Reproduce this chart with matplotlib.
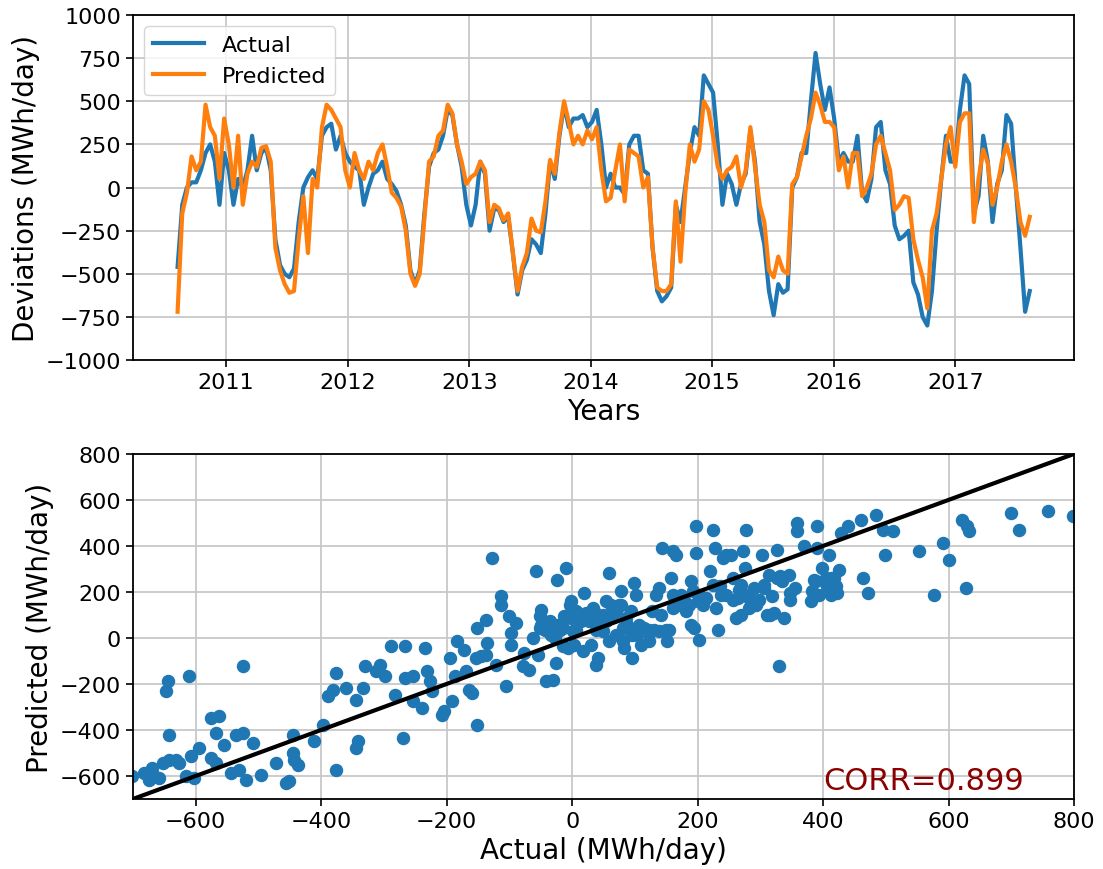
import numpy as np
import pandas as pd
import matplotlib
matplotlib.use('Agg')
import matplotlib.pyplot as plt
import matplotlib.dates as mdates

# fortnightly deviations (MWh/day), first sample 2010-08-08
actual = [-460, -100, 0, 30, 30, 100, 200, 250, 150, -100, 200, 100, -100, 50, 0, 100, 300, 100, 200, 230,
          100, -300, -450, -500, -520, -470, -200, 0, 60, 100, 50, 300, 350, 370, 220, 300, 200, 150, 120, 100,
          -100, 0, 80, 100,
          150, 50, 20, -20, -100, -220, -480, -560, -480, -150, 120, 200, 220, 300, 450, 420, 250, 120, -100, -220,
          -100, 150, 80, -250, -120, -130, -200, -170, -380, -620, -480, -420, -300, -330, -380, -150, 150, 50, 300, 480,
          350, 400, 400, 420, 350, 380, 450, 250, 0, 80, 0,
          0, -40, 250, 300, 300, 100, 80, -350, -600, -660, -630, -580, -100, -200, 0, 200, 350, 300, 650, 600,
          550, 250, -100, 80, 20, -100, 20, 80, 330, 150, -200, -330, -600, -740, -560, -610, -590, 0, 60, 200,
          200, 500, 780, 600, 450, 580, 400, 150, 200, 150,
          150, 300, -30, -80, 50, 350, 380, 100, 20, -220, -300, -280, -250, -550, -620, -750, -800, -600, -250, 50,
          300, 150, 150, 450, 650, 600, -150, -50, 300, 150, -200, 20, 100, 420, 370, 0, -350, -720, -600]
predicted = [-720, -150, -30, 180, 100, 150, 480, 350, 300, 50, 400, 250, 0, 300, -100, 80, 150, 120, 230, 240,
             150, -350, -480, -560, -610, -600, -300, -50, -380, 50, 0, 350, 480, 450, 400, 350, 100, 0, 200, 100,
             50, 150, 100, 200,
             250, 120, -30, -60, -110, -250, -500, -570, -500, -180, 150, 180, 300, 330, 480, 430, 250, 150, 20, 60,
             80, 150, 100, -200, -100, -120, -190, -150, -380, -600, -460, -380, -180, -250, -260, -80, 160, 80, 320, 500,
             380, 250, 300, 250, 330, 280, 350, 100, -80, -60, 100,
             250, -80, 220, 200, 180, 0, 60, -350, -580, -600, -600, -560, -80, -430, -40, 250, 150, 220, 500, 450,
             300, 120, 50, 100, 120, 180, 0, 100, 350, 120, -100, -200, -480, -520, -400, -480, -500, 20, 60, 180,
             300, 400, 550, 480, 380, 380, 350, 100, 180, 0,
             200, 200, -50, 0, 80, 250, 300, 200, 100, -130, -100, -50, -60, -300, -420, -520, -700, -250, -150, 50,
             250, 350, 120, 380, 430, 430, -200, 50, 220, 140, -100, 0, 150, 250, 150, 0, -200, -280, -170]
dates = pd.date_range('2010-08-08', periods=len(actual), freq='14D')

# scatter: actual vs predicted (MWh/day)
sc_actual = [-701, -683, -675, -667, -659, -669, -653, -643, -632, -627, -648, -645, -643, -611, -608, -595, -603, -616,
             -576, -576, -563, -568, -555, -568, -544, -531, -536, -525, -525, -520, -509, -496, -472, -451, -456, -445,
             -443, -437, -445, -411, -397, -377, -377, -389, -381, -360, -344, -341, -344, -333, -331, -312, -307, -299,
             -288, -283, -269, -267, -267, -253, -253, -240, -235, -232, -227, -224, -208, -205, -195, -192, -187, -184,
             -172, -169, -164, -159, -153, -151, -145, -137, -151, -137, -135, -127, -113, -113, -121, -105, -100, -97,
             -90, -97, -79, -68, -76, -63, -58, -55, -52, -50, -47, -42, -31, -39, -31, -28, -26, -24, -20, -15, -13,
             -10, -7, -2, 1, 3, 6, 14, 17, 19, 25, 30, 33, 38, 41, 43, 49, 54, 59, 59, 65, 70, 75, 78, 81, 83, 86, 91,
             94, 96, 99, 102, 104, 107, 110, 118, 123, 128, 134, 139, 142, 144, 150, 152, 158, 160, 160, 165, 168, 176,
             181, 189, 192, 195, 197, 197, 200, 203, 208, 213, 219, 224, 227, 229, 232, 237, 240, 245, 253, 256, 261,
             264, 269, 272, 275, 277, 280, 282, 290, 298, 303, 306, 311,
             319, 316, 322, 330, 332, 327, 338, 348, 348, 359, 359, 370, 380, 391, 388, 391, 399, 404, 407, 410, 412,
             418, 423, 426, 428, 439, 460, 463, 471, 484, 495, 498, 511, 553, 577, 591, 601, 622, 628, 630, 632, 699,
             713, 758, 798,
             -52, -50, -44, -36, -34, -23, -15, -4, -2, 6, 12, 22, 27, 35, 38, 49, 54, 62, 70, 78, 81, 88, 96, 102,
             115, 123, 131, 139, 155, 160, 171, 179, 187, 189, 173, 203, 224, 235, 245, 256, 266, 282, 293, 269,
             306, 314, 327, 335, 346, 356, 383, 386, 394, 412, 420]
sc_pred = [-601, -587, -616, -601, -609, -565, -543, -529, -529, -543, -232, -188, -420, -167, -514, -478, -609, -601,
           -522, -348, -341, -413, -464, -543, -587, -572, -420, -413, -123, -616, -456, -594, -543, -623, -630, -500,
           -529, -551, -420, -449, -377, -572, -152, -254, -225, -217, -478, -449, -268, -217, -123, -145, -116, -167,
           -36, -246, -435, -36, -174, -167, -275, -304, -43, -145, -188, -232, -333, -319, -87, -275, -167, -14,
           -51, -145, -225, -239, -87, -377, -80, -72, 43, 80, -22, 348, 181, 145, -116, -210, 94, 22, 65, -29,
           -123, -138, -65, 0, 290, -72, 43, 123, 72, -188, -181, 29, 58, 0, -109, 254, 36, -36, 94,
           304, -43, 159, 29, -29, 116, 72, -58, 196, 101, -29, 130, -116, -87, 72, 29, 159, 283, -14, 101, 14, 145,
           203, -14, -43, 87, 43, 116, -87, 239, 188, 14, 58, -29, 29, 36, 116, 188, 217, 101, 391, 36, -14, 261,
           377, 130, 362, 145, 159, 116, 246, 203, 43, 485, 370, 159, -7, 145, 174, 290, 471, 391, 130, 36, 188, 348,
           362, 362, 261, 87, 174, 232, 377, 304, 471, 188, 130, 217, 167, 362, 232, 101,
           181, 101, 109, -123, 268, 384, 87, 196, 167, 500, 464, 398, 159, 485, 246, 391, 304, 261, 225, 362, 188,
           261, 196, 297, 456, 485, 514, 261, 196, 536, 471, 362, 464, 377, 188, 413, 341, 514, 217, 485, 464, 543,
           471, 550, 529,
           94, 58, 36, 72, 14, 58, 43, 145, 87, 36, 101, 109, 72, 116, 36, 101, 72, 145, 116, 145, 43, 58, 14, 36,
           43, -14, 36, 29, 36, 188, 159, 167, 145, 58, 188, 188, 232, 225, 188, 167, 210, 174, 145, 101,
           217, 275, 261, 246, 275, 217, 203, 254, 188, 261, 225]
corr_text = 'CORR=0.899'

fig = plt.figure(figsize=(11.03, 8.7), dpi=100)
ax1 = fig.add_axes([0.1206, 0.585, 0.8531, 0.3966])
ax2 = fig.add_axes([0.1206, 0.0805, 0.8531, 0.3966])

ax1.plot(dates, actual, color='#1f77b4', lw=3, label='Actual')
ax1.plot(dates, predicted, color='#ff7f0e', lw=3, label='Predicted')
ax1.set_xlim(pd.Timestamp('2010-03-27'), pd.Timestamp('2017-12-24'))
ax1.set_ylim(-1000, 1000)
ax1.set_yticks(np.arange(-1000, 1001, 250))
ax1.xaxis.set_major_locator(mdates.YearLocator())
ax1.xaxis.set_major_formatter(mdates.DateFormatter('%Y'))
ax1.set_xlabel('Years', fontsize=20)
ax1.set_ylabel('Deviations (MWh/day)', fontsize=20)
ax1.legend(loc='upper left', fontsize=16, handlelength=2.3)

ax2.scatter(sc_actual, sc_pred, s=75, color='#1f77b4', zorder=2)
ax2.plot([-700, 800], [-700, 800], color='k', lw=3, zorder=3)
ax2.set_xlim(-700, 800)
ax2.set_ylim(-700, 800)
ax2.set_xticks(np.arange(-600, 801, 200))
ax2.set_yticks(np.arange(-600, 801, 200))
ax2.set_xlabel('Actual (MWh/day)', fontsize=20)
ax2.set_ylabel('Predicted (MWh/day)', fontsize=20)
ax2.text(400, -655, corr_text, fontsize=22, color='#8b0000')

for ax in (ax1, ax2):
    ax.grid(True, color='#c8c8c8', lw=1.3)
    ax.set_axisbelow(True)
    ax.tick_params(labelsize=16, width=1.2, length=5)
    for s in ax.spines.values():
        s.set_linewidth(1.3)

plt.savefig('out.png', dpi=100)
